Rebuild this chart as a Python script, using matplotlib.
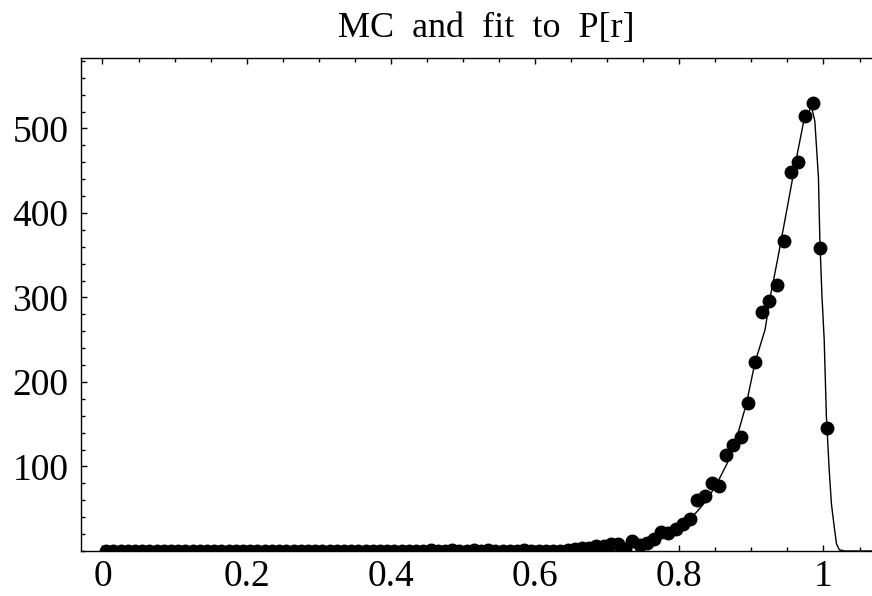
#!/usr/bin/env python3

import numpy as np
import matplotlib.pyplot as plt
from matplotlib.ticker import MultipleLocator

# MC histogram: bin centres and counts
r_bins = np.round(np.arange(0.005, 1.006, 0.01), 3)
counts_low = [0] * 45          # 0.005 .. 0.445 are empty
counts_mid = [1, 0, 0, 1, 0, 0, 1, 0, 1, 0,      # 0.455 .. 0.545
              0, 0, 0, 1, 0, 0, 0, 0, 0, 1,      # 0.555 .. 0.645
              2, 3, 4, 6, 6, 8, 8, 2, 12, 7,     # 0.655 .. 0.745
              10, 14, 22, 21, 26, 32, 38, 60, 65, 80,   # 0.755 .. 0.845
              77, 114, 126, 135, 175, 224, 283, 296, 315, 367,  # 0.855 .. 0.945
              449, 460, 515, 530, 358, 146]     # 0.955 .. 1.005
mc_counts = np.array(counts_low + counts_mid)

# fitted P[r]
fit_r = [0.0, 0.5, 0.6, 0.65, 0.7, 0.72, 0.75, 0.773, 0.792, 0.810, 0.824,
         0.838, 0.852, 0.866, 0.880, 0.893, 0.905, 0.919, 0.926, 0.937,
         0.949, 0.960, 0.972, 0.979, 0.983, 0.988, 0.993, 0.995, 0.998,
         1.001, 1.004, 1.008, 1.011, 1.015, 1.018, 1.022, 1.03, 1.07]
fit_p = [0, 0.05, 0.4, 1.1, 3.2, 4.8, 9, 14.5, 22, 34, 46,
         60, 79.5, 103, 135, 174, 223, 262, 300, 348,
         403, 454, 506, 517, 527, 509, 442, 367, 300,
         250, 160, 95, 56, 28, 8.5, 1.4, 0, 0]

x_major = [0, 0.2, 0.4, 0.6, 0.8, 1.0]
x_labels = ['0', '0.2', '0.4', '0.6', '0.8', '1']
y_major = [100, 200, 300, 400, 500]

plt.rcParams['font.family'] = ['Liberation Serif', 'DejaVu Serif']

fig = plt.figure(figsize=(8.72, 5.96), dpi=100)
ax = fig.add_axes([81 / 872, 45 / 596, 791 / 872, 493 / 596])

ax.plot(fit_r, fit_p, color='black', lw=1.0, zorder=2)
ax.plot(r_bins, mc_counts, 'o', color='black', markersize=9, zorder=3)

ax.set_xlim(-0.0298, 1.0673)
ax.set_ylim(0, 583.4)

ax.set_xticks(x_major)
ax.set_xticklabels(x_labels)
ax.xaxis.set_minor_locator(MultipleLocator(0.05))
ax.set_yticks(y_major)
ax.yaxis.set_minor_locator(MultipleLocator(20))

ax.tick_params(which='both', direction='in', color='black', width=1.0,
               top=True, right=False, labelsize=27)
ax.tick_params(which='major', length=4.5)
ax.tick_params(which='minor', length=2.8)
ax.tick_params(axis='x', pad=6)
ax.tick_params(axis='y', pad=9)

for side in ['left', 'bottom', 'top']:
    ax.spines[side].set_linewidth(1.0)
ax.spines['right'].set_visible(False)

fig.text(486 / 872, 1 - 37 / 596, 'MC  and  fit  to  P[r]', ha='center',
         va='baseline', fontsize=26)

fig.savefig('out.png', dpi=100)
